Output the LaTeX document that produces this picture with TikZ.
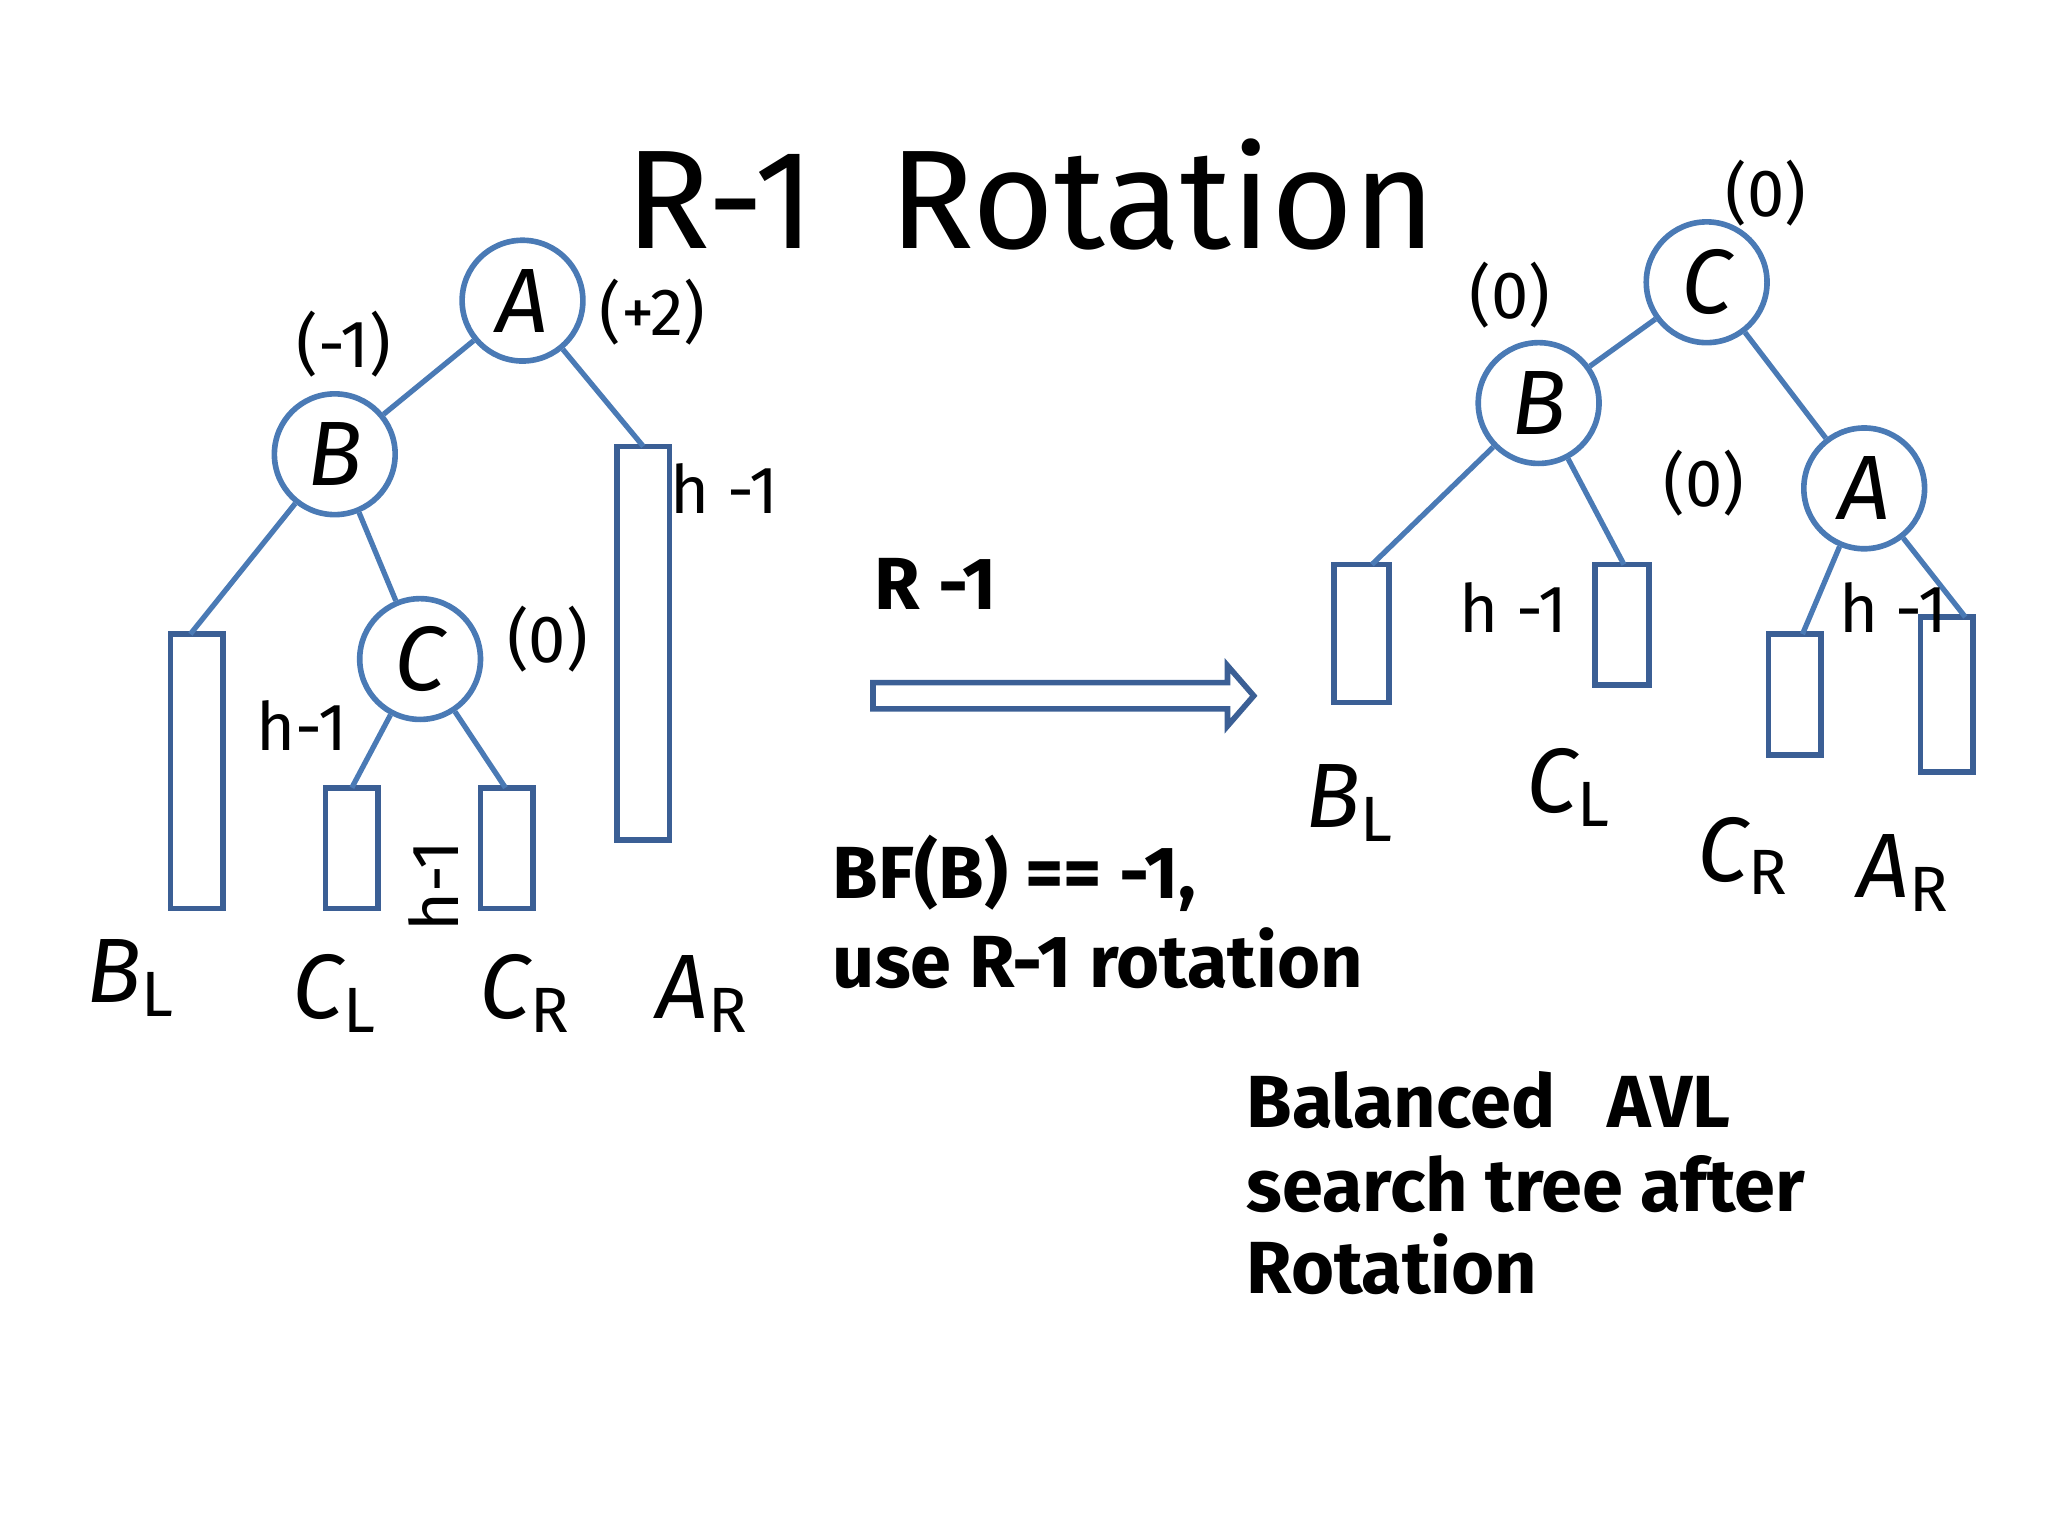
\documentclass[tikz,border=0pt]{standalone}
\usepackage{fontspec}
\setmainfont{Fira Sans}
\begin{document}
\begin{tikzpicture}[x=0.01313cm,y=-0.01313cm,
 nd/.style={circle,draw=edgeblue,line width=1.6pt,fill=white,minimum size=92*0.01313cm,inner sep=0pt,font=\fontsize{26}{28}\selectfont\itshape},
 ln/.style={draw=edgeblue,line width=1.5pt},
 box/.style={draw=boxblue,line width=1.6pt,fill=white},
 bf/.style={font=\fontsize{19}{22}\selectfont},
 lab/.style={font=\fontsize{26}{28}\selectfont\itshape},
 txt/.style={font=\fontsize{21}{24}\selectfont\bfseries,anchor=west}]
\definecolor{edgeblue}{HTML}{4A7AB5}
\definecolor{boxblue}{HTML}{3B5F95}
\useasboundingbox (0,0) rectangle (1560,1170);
\node[font=\fontsize{40}{44}\selectfont] (title) at (785,148) {R-1\ \ Rotation};
% left tree
\node[nd] (A) at (398,229) {A};
\node[nd] (B) at (255,346) {B};
\node[nd] (C) at (320,502) {C};
\draw[box] (470,340) rectangle (510,640);
\coordinate (ar) at (490,340);
\draw[box] (130,483) rectangle (170,692);
\coordinate (bl) at (145,483);
\draw[box] (248,600) rectangle (288,692);
\coordinate (cl) at (268,600);
\draw[box] (366,600) rectangle (406,692);
\coordinate (cr) at (385,600);
\draw[ln] (A) -- (B);
\draw[ln] (A) -- (ar);
\draw[ln] (B) -- (bl);
\draw[ln] (B) -- (C);
\draw[ln] (C) -- (cl);
\draw[ln] (C) -- (cr);
\node[bf] (pa) at (497,238) {(+2)};
\node[bf] (pb) at (262,262) {(-1)};
\node[bf] (pc) at (417,487) {(0)};
\node[bf] (h1) at (552,372) {h -1};
\node[bf] (h2) at (230,553) {h-1};
\node[bf,rotate=90] (h3) at (330,675) {h-1};
\node[lab] (l1) at (100,745) {B$_{\mathrm{L}}$};
\node[lab] (l2) at (255,757) {C$_{\mathrm{L}}$};
\node[lab] (l3) at (400,757) {C$_{\mathrm{R}}$};
\node[lab] (l4) at (535,757) {A$_{\mathrm{R}}$};
% arrow
\draw[boxblue,line width=1.6pt,fill=white] (665,520) -- (935,520) -- (935,507) -- (955,530) -- (935,553) -- (935,540) -- (665,540) -- cycle;
\node[bf,font=\fontsize{21}{24}\selectfont\bfseries] (r1) at (713,445) {R -1};
\node[txt] (t1) at (625,665) {BF(B) == -1,};
\node[txt] (t2) at (625,730) {use R-1 rotation};
% right tree
\node[nd] (C2) at (1300,215) {C};
\node[nd] (B2) at (1172,307) {B};
\node[nd] (A2) at (1420,372) {A};
\draw[box] (1016,430) rectangle (1058,535);
\coordinate (bl2) at (1045,430);
\draw[box] (1215,430) rectangle (1256,522);
\coordinate (cl2) at (1237,430);
\draw[box] (1347,483) rectangle (1387,575);
\coordinate (cr2) at (1373,483);
\draw[box] (1463,470) rectangle (1503,588);
\coordinate (ar2) at (1497,470);
\draw[ln] (C2) -- (B2);
\draw[ln] (C2) -- (A2);
\draw[ln] (B2) -- (bl2);
\draw[ln] (B2) -- (cl2);
\draw[ln] (A2) -- (cr2);
\draw[ln] (A2) -- (ar2);
\node[bf] (pc2) at (1345,147) {(0)};
\node[bf] (pb2) at (1150,225) {(0)};
\node[bf] (pa2) at (1298,368) {(0)};
\node[bf] (h4) at (1153,463) {h -1};
\node[bf] (h5) at (1442,463) {h -1};
\node[lab] (m1) at (1028,612) {B$_{\mathrm{L}}$};
\node[lab] (m2) at (1195,600) {C$_{\mathrm{L}}$};
\node[lab] (m3) at (1328,652) {C$_{\mathrm{R}}$};
\node[lab] (m4) at (1450,665) {A$_{\mathrm{R}}$};
\node[txt] (s1) at (940,838) {Balanced\ \ \ AVL};
\node[txt] (s2) at (940,902) {search tree after};
\node[txt] (s3) at (940,963) {Rotation};
\end{tikzpicture}
\end{document}
